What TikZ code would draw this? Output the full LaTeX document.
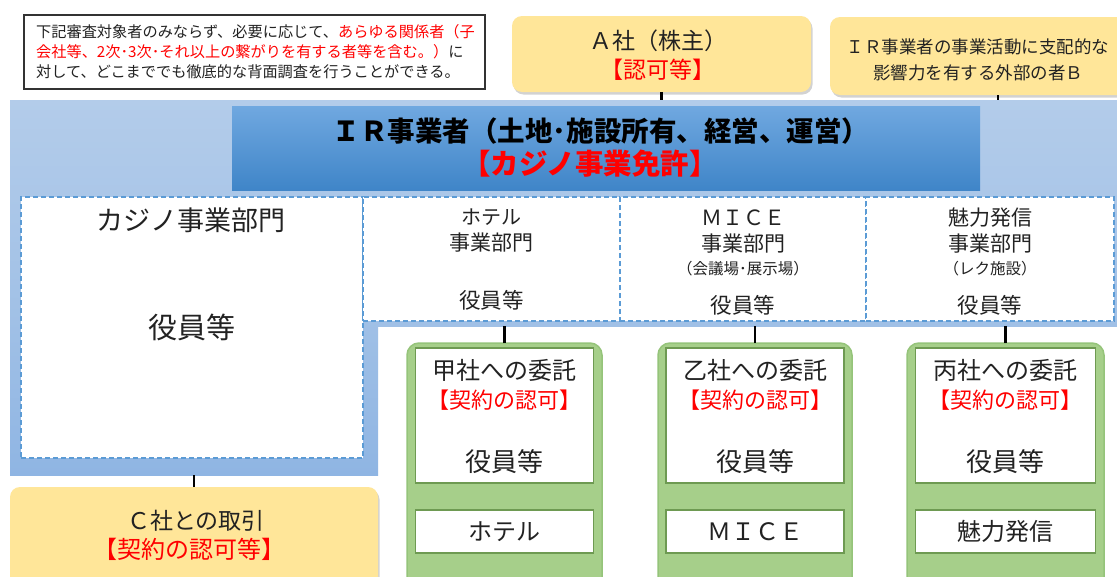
\documentclass[tikz,border=0pt]{standalone}
\usepackage{fontspec}
\setmainfont{Noto Sans CJK JP}
\usetikzlibrary{shadows}
\definecolor{yel}{HTML}{FFE699}
\definecolor{grn}{HTML}{A6CF8A}
\definecolor{grnb}{HTML}{95C47A}
\definecolor{grnd}{HTML}{6E9A52}
\definecolor{dashblue}{HTML}{5B9BD5}
\definecolor{bgtop}{HTML}{B3CCEA}
\definecolor{bgmid}{HTML}{A0C0E6}
\definecolor{bgbot}{HTML}{8FB5E3}
\definecolor{hdtop}{HTML}{70A8E0}
\definecolor{hdbot}{HTML}{3F85C8}
\definecolor{txtred}{HTML}{FF0000}
\definecolor{txtgray}{HTML}{222222}
\newcommand{\fs}[1]{\fontsize{#1}{#1}\selectfont}
\begin{document}
\begin{tikzpicture}[x=1pt,y=-1pt,
  box/.style={inner sep=0pt, outer sep=0pt},
  notebox/.style={box, draw=black!80, line width=1.5pt, fill=white},
  yelbox/.style={box, rounded corners=10pt, fill=yel, drop shadow={opacity=0.35, shadow xshift=1.5pt, shadow yshift=-2.5pt}},
  dashbox/.style={box, fill=white, draw=dashblue, line width=1.2pt, dash pattern=on 5pt off 3pt},
  greenbox/.style={box, rounded corners=12pt, fill=grn, draw=grnb, line width=1.5pt},
  innerbox/.style={box, fill=white, draw=grnd, line width=1.3pt},
  conn/.style={line width=2.6pt, black},
  txt/.style={inner sep=0pt, text=txtgray},
  red/.style={txt, text=txtred}
]
\useasboundingbox (0,0) rectangle (1117,576);
\clip (0,0) rectangle (1117,576);
\fill[white] (0,0) rectangle (1117,576);

% light blue background
\node[box, top color=bgtop, bottom color=bgmid, minimum width=1107pt, minimum height=226pt] (bgT) at (563.5,213) {};
\node[box, top color=bgmid, bottom color=bgbot, minimum width=368pt, minimum height=155pt] (bgL) at (194,397.5) {};
% header
\node[box, top color=hdtop, bottom color=hdbot, minimum width=748pt, minimum height=84pt] (hd) at (606,148) {};

% dashed boxes
\node[dashbox, minimum width=342pt, minimum height=261pt] (casino) at (192,327.5) {};
\node[dashbox, minimum width=257pt, minimum height=124pt] (hotel) at (491.5,259) {};
\node[dashbox, minimum width=246pt, minimum height=124pt] (mice) at (743,259) {};
\node[dashbox, minimum width=248pt, minimum height=124pt] (miryoku) at (990,259) {};

% notice box
\node[notebox, minimum width=461pt, minimum height=74pt] (note) at (254.5,52) {};

% yellow boxes
\node[yelbox, minimum width=299pt, minimum height=76pt] (A) at (661.5,54) {};
\node[yelbox, minimum width=336pt, minimum height=78pt] (B) at (998,56) {};
\node[yelbox, minimum width=368pt, minimum height=120pt] (C) at (194,547) {};

% green boxes
\node[greenbox, minimum width=195pt, minimum height=257pt] (G1) at (504.5,471.5) {};
\node[greenbox, minimum width=194pt, minimum height=257pt] (G2) at (755,471.5) {};
\node[greenbox, minimum width=197pt, minimum height=257pt] (G3) at (1005.5,471.5) {};
\node[innerbox, minimum width=178pt, minimum height=135pt] (G1a) at (504.5,415.5) {};
\node[innerbox, minimum width=178pt, minimum height=43pt] (G1b) at (504.5,531.5) {};
\node[innerbox, minimum width=178pt, minimum height=135pt] (G2a) at (755,415.5) {};
\node[innerbox, minimum width=178pt, minimum height=43pt] (G2b) at (755,531.5) {};
\node[innerbox, minimum width=180pt, minimum height=135pt] (G3a) at (1005.5,415.5) {};
\node[innerbox, minimum width=180pt, minimum height=43pt] (G3b) at (1005.5,531.5) {};

% connectors
\draw[conn] (A.south) -- (A.south |- bgT.north);
\draw[conn] (B.south) -- (B.south |- bgT.north);
\draw[conn] (G1.north) -- (G1.north |- bgT.south);
\draw[conn] (G2.north) -- (G2.north |- bgT.south);
\draw[conn] (G3.north) -- (G3.north |- bgT.south);
\draw[conn] (C.north) -- (C.north |- bgL.south);

% notice text
\node[txt, anchor=west, font=\fs{15.2}] (n1) at (36,32) {下記審査対象者のみならず、必要に応じて、\textcolor{txtred}{あらゆる関係者（子}};
\node[txt, anchor=west, font=\fs{15.2}] (n2) at (36,52) {\textcolor{txtred}{会社等、2次･3次･それ以上の繋がりを有する者等を含む。）}に};
\node[txt, anchor=west, font=\fs{15.2}] (n3) at (36,72) {対して、どこまででも徹底的な背面調査を行うことができる。};

% A, B texts
\node[txt, font=\fs{23}] (a1) at (658,41) {Ａ社（株主）};
\node[red, font=\fs{23}] (a2) at (658,70) {【認可等】};
\node[txt, font=\fs{17.5}] (b1) at (978,47) {ＩＲ事業者の事業活動に支配的な};
\node[txt, font=\fs{17.5}] (b2) at (978,73) {影響力を有する外部の者Ｂ};

% header texts
\node[txt, text=black, font=\bfseries\fs{27.5}] (h1) at (601,131) {ＩＲ事業者（土地･施設所有、経営、運営）};
\node[red, font=\bfseries\fs{28.5}] (h2) at (590,164) {【カジノ事業免許】};

% casino
\node[txt, font=\fs{27}] (c1) at (191,220) {カジノ事業部門};
\node[txt, font=\fs{29}] (c2) at (192,327) {役員等};

% hotel
\node[txt, font=\fs{20}] (ht1) at (491.5,217) {ホテル};
\node[txt, font=\fs{21}] (ht2) at (491.5,243) {事業部門};
\node[txt, font=\fs{21.5}] (ht3) at (491.5,300) {役員等};
% mice
\node[txt, font=\fs{21}] (m1) at (743,218) {ＭＩＣＥ};
\node[txt, font=\fs{21}] (m2) at (743,244) {事業部門};
\node[txt, font=\fs{15.5}] (m3) at (743,269) {（会議場･展示場）};
\node[txt, font=\fs{21.5}] (m4) at (743,305) {役員等};
% miryoku
\node[txt, font=\fs{21}] (r1) at (990,218) {魅力発信};
\node[txt, font=\fs{21}] (r2) at (990,244) {事業部門};
\node[txt, font=\fs{15.5}] (r3) at (990,269) {（レク施設）};
\node[txt, font=\fs{21.5}] (r4) at (990,305) {役員等};

% green texts
\node[txt, font=\fs{24}] (g11) at (504.5,370) {甲社への委託};
\node[red, font=\fs{22}] (g12) at (504.5,400) {【契約の認可】};
\node[txt, font=\fs{26}] (g13) at (504.5,462) {役員等};
\node[txt, font=\fs{24}] (g14) at (G1b) {ホテル};
\node[txt, font=\fs{24}] (g21) at (755,370) {乙社への委託};
\node[red, font=\fs{22}] (g22) at (755,400) {【契約の認可】};
\node[txt, font=\fs{26}] (g23) at (755,462) {役員等};
\node[txt, font=\fs{24}] (g24) at (G2b) {ＭＩＣＥ};
\node[txt, font=\fs{24}] (g31) at (1005.5,370) {丙社への委託};
\node[red, font=\fs{22}] (g32) at (1005.5,400) {【契約の認可】};
\node[txt, font=\fs{26}] (g33) at (1005.5,462) {役員等};
\node[txt, font=\fs{24}] (g34) at (G3b) {魅力発信};

% C texts
\node[txt, font=\fs{23}] (cc1) at (196,521) {Ｃ社との取引};
\node[red, font=\fs{24}] (cc2) at (189,549) {【契約の認可等】};
\end{tikzpicture}
\end{document}
